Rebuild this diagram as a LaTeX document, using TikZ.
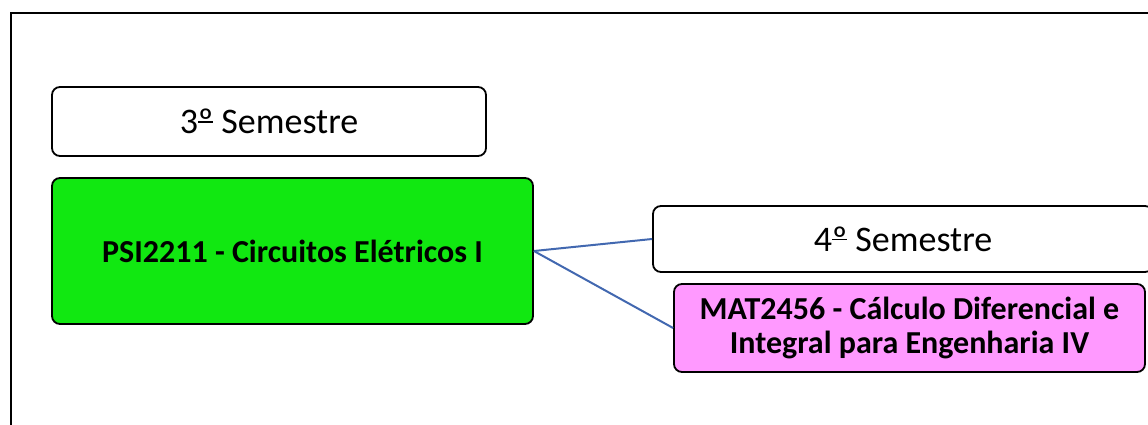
\documentclass[tikz,border=0pt]{standalone}
\usepackage{fontspec}
\setmainfont{Carlito}
\definecolor{courseGreen}{RGB}{17,232,17}
\definecolor{coursePink}{RGB}{255,153,255}
\definecolor{linkBlue}{RGB}{66,104,176}
% ordinal indicator with its bar underneath
\newcommand\ordmark{\setbox0\hbox{º}\rlap{\copy0}\raisebox{0.3em}{\rule{\wd0}{0.05em}}}
\tikzset{
  box/.style={draw=black, line width=1.8pt, rounded corners=8pt, inner sep=0pt,
              align=center, anchor=center},
  semester/.style={box, fill=white, font=\fontsize{36}{43}\selectfont},
  course/.style={box, font=\fontsize{32}{33.5}\selectfont\bfseries},
  link/.style={draw=linkBlue, line width=2pt}
}
\begin{document}
\begin{tikzpicture}[x=1pt,y=-1pt]
  \useasboundingbox (0,0) rectangle (1148,425);
  \begin{scope}
    \clip (0,0) rectangle (1148,425);
    % outer frame
    \draw[line width=2.4pt] (11,13) rectangle (1170,450);

    % third semester
    \node[semester, minimum width=434pt, minimum height=69pt] (s3) at (269,121.5) {3\ordmark\ Semestre};
    \node[course, fill=courseGreen, minimum width=481pt, minimum height=146pt] (psi) at (292.5,251)
      {PSI2211 - Circuitos Elétricos I};

    % fourth semester
    \node[semester, minimum width=500pt, minimum height=66pt] (s4) at (903,239) {4\ordmark\ Semestre};
    \node[course, fill=coursePink, minimum width=471pt, minimum height=88pt] (mat) at (909.5,328)
      {MAT2456 - Cálculo Diferencial e\\Integral para Engenharia IV};

    % prerequisite links
    \draw[link] (psi.east) -- (s4.west);
    \draw[link] (psi.east) -- (mat.west);
  \end{scope}
\end{tikzpicture}
\end{document}
